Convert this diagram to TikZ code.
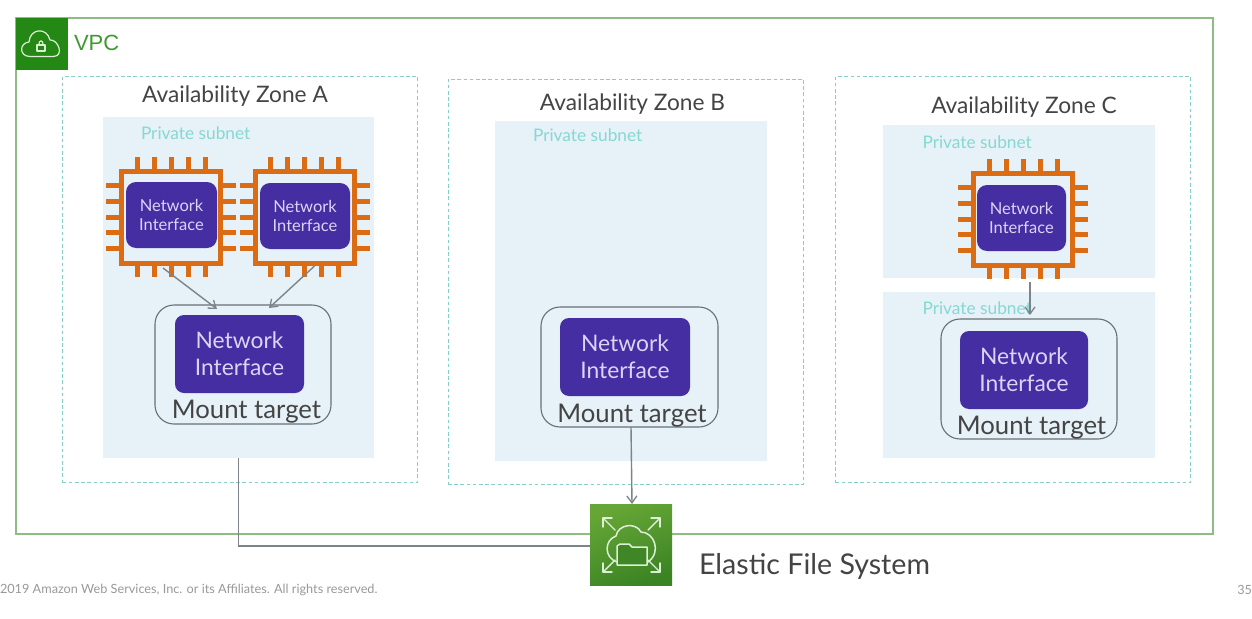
\documentclass[tikz,border=0pt]{standalone}
\usepackage{fontspec}
\setmainfont{Lato}
\newfontfamily\arialfont{Liberation Sans}
\usetikzlibrary{arrows.meta,calc}
\definecolor{vpcline}{HTML}{8FBC84}
\definecolor{vpcgreen}{HTML}{248814}
\definecolor{vpctext}{HTML}{3E9A30}
\definecolor{zoneline}{HTML}{86CFC8}
\definecolor{subnetbg}{HTML}{E6F1F8}
\definecolor{subnettext}{HTML}{86D8D2}
\definecolor{chiporange}{HTML}{DC6C14}
\definecolor{nipurple}{HTML}{452DA2}
\definecolor{nitext}{HTML}{DCD4F7}
\definecolor{arrowgray}{HTML}{7C8489}
\definecolor{inktext}{HTML}{444444}
\definecolor{efstop}{HTML}{66A636}
\definecolor{efsbot}{HTML}{3B8424}
\definecolor{iconline}{HTML}{DDF0D5}
\tikzset{
  x=1pt,y=-1pt,
  flatbox/.style={inner sep=0pt,outer sep=0pt,align=center},
  vpcbox/.style={flatbox,draw=vpcline,line width=1.6pt},
  vpcbadge/.style={flatbox,fill=vpcgreen},
  zonebox/.style={flatbox,draw=zoneline,line width=1pt,dash pattern=on 3.6pt off 2.6pt},
  subnetbox/.style={flatbox,fill=subnetbg},
  chipbody/.style={flatbox,draw=chiporange,line width=5pt},
  chippin/.style={draw=chiporange,line width=5pt},
  nismall/.style={flatbox,fill=nipurple,rounded corners=10pt,text=nitext,font=\fontsize{16.5}{18.5}\selectfont},
  nibig/.style={flatbox,fill=nipurple,rounded corners=9pt,text=nitext,font=\fontsize{22.8}{27}\selectfont},
  mountbox/.style={flatbox,draw=arrowgray!85!black,line width=1.1pt,rounded corners=19pt},
  zonelabel/.style={flatbox,text=inktext,font=\fontsize{22.7}{24}\selectfont},
  mountlabel/.style={flatbox,text=inktext,font=\fontsize{25.7}{27}\selectfont},
  subnetlabel/.style={flatbox,anchor=west,text=subnettext,font=\fontsize{17.3}{18}\selectfont},
  link/.style={draw=arrowgray,line width=1.4pt},
  arrowlink/.style={link,-{Straight Barb[length=7pt,width=10pt,line width=1.3pt]}},
  iconstroke/.style={draw=iconline,line width=1.5pt,line join=round,line cap=round},
  footer/.style={flatbox,text=black!40,font=\fontsize{12.7}{13}\selectfont},
}
% style, name, x0, y0, x1, y1, text
\newcommand{\placebox}[7]{%
  \pgfmathsetmacro{\bw}{#5-#3}\pgfmathsetmacro{\bh}{#6-#4}%
  \node[#1,minimum width=\bw pt,minimum height=\bh pt] (#2) at ({(#3+#5)/2},{(#4+#6)/2}) {#7};%
}
% name, centre x, centre y
\newcommand{\chipicon}[3]{%
  \node[chipbody,minimum width=99pt,minimum height=92pt] (#1) at (#2,#3) {};%
  \begin{scope}[shift={(#2,#3)}]
    \foreach \p in {-34,-17,0,17,34}{%
      \draw[chippin] (\p,-60) -- (\p,-48);
      \draw[chippin] (\p,48) -- (\p,60);}
    \foreach \p in {-32,-16,0,15,31}{%
      \draw[chippin] (-65,\p) -- (-52,\p);
      \draw[chippin] (52,\p) -- (65,\p);}
  \end{scope}%
}
\begin{document}
\begin{tikzpicture}
\useasboundingbox (0,0) rectangle (1252,618);
\fill[white] (0,0) rectangle (1252,618);

% VPC
\placebox{vpcbox}{vpc}{16}{18}{1213}{534}{}
\placebox{vpcbadge}{vpcicon}{16}{18}{68}{70}{}
\draw[iconstroke,line width=1.2pt] (30,56.5) .. controls (19,56.5) and (19,43) .. (29,42)
  .. controls (30,28) and (47,27) .. (50,40) .. controls (58,39) and (65,56.5) .. (53,56.5) -- cycle;
\draw[iconstroke,line width=1.2pt] (37,45) rectangle (45,51);
\draw[iconstroke,line width=1.2pt] (38.8,45) .. controls (38.8,39.5) and (43.2,39.5) .. (43.2,45);
\node[flatbox,anchor=west,text=vpctext,font=\arialfont\fontsize{22}{24}\selectfont] (vpclabel) at (74,43) {VPC};

% Zones
\placebox{zonebox}{zoneA}{62.5}{76.5}{417.5}{482.5}{}
\placebox{zonebox}{zoneB}{448}{79}{803.5}{484.5}{}
\placebox{zonebox}{zoneC}{835.5}{76.5}{1190.5}{482.5}{}
\node[zonelabel] (zoneAlabel) at (235,96.5) {Availability Zone A};
\node[zonelabel] (zoneBlabel) at (632.5,104.5) {Availability Zone B};
\node[zonelabel] (zoneClabel) at (1024,107.5) {Availability Zone C};

% Subnets
\placebox{subnetbox}{subA}{103}{117}{374}{458}{}
\placebox{subnetbox}{subB}{495}{121}{767}{461}{}
\placebox{subnetbox}{subCa}{883}{125}{1155}{278}{}
\placebox{subnetbox}{subCb}{883}{292}{1155}{458}{}
\node[subnetlabel] (subAlabel) at (141,133) {Private subnet};
\node[subnetlabel] (subBlabel) at (533,135) {Private subnet};
\node[subnetlabel] (subCalabel) at (922.5,142) {Private subnet};
\node[subnetlabel] (subCblabel) at (922.5,308.5) {Private subnet};

% Instances
\chipicon{chipAa}{171}{217}
\chipicon{chipAb}{304.5}{217}
\chipicon{chipC}{1023}{219}
\placebox{nismall}{niAa}{126}{182}{217}{248}{Network\\Interface}
\placebox{nismall}{niAb}{260}{183}{350}{249}{Network\\Interface}
\placebox{nismall}{niC}{977}{185}{1066}{251}{Network\\Interface}

% Mount targets
\placebox{mountbox}{mtA}{155}{305}{331}{424}{}
\placebox{mountbox}{mtB}{541}{307}{718}{427}{}
\placebox{mountbox}{mtC}{941}{319}{1117}{439}{}
\placebox{nibig}{niA}{175}{315}{304}{393}{Network\\Interface}
\placebox{nibig}{niB}{560}{318}{690}{396}{Network\\Interface}
\placebox{nibig}{niCb}{960}{331}{1088}{409}{Network\\Interface}
\node[mountlabel] (mtAlabel) at (246.5,412) {Mount target};
\node[mountlabel] (mtBlabel) at (632,415.5) {Mount target};
\node[mountlabel] (mtClabel) at (1031.5,427.5) {Mount target};

% EFS icon
\placebox{flatbox}{efs}{590}{504}{672}{585}{}
\shade[bottom color=efsbot,top color=efstop,shading angle=20] (590,504) rectangle (672,585);
\draw[iconstroke] (617,562) .. controls (604,558) and (604,540) .. (616,536)
  .. controls (618,524) and (636,522) .. (641,532) .. controls (654,532) and (662,552) .. (648,562);
\draw[iconstroke,fill=efsbot!90!efstop] (617,565) -- (617,546) -- (620,544) -- (629,544) -- (632,547) -- (647,547) -- (647,565) -- cycle;
\foreach \tx/\ty/\ex/\ey/\dx/\dy in {603/518/615/530/1/1,660/518/648/530/-1/1,603/572/615/560/1/-1,660/572/648/560/-1/-1}{%
  \draw[iconstroke,line width=1.4pt] (\tx,\ty) -- (\ex,\ey);
  \draw[iconstroke,line width=1.4pt] (\tx+\dx*9,\ty) -- (\tx,\ty) -- (\tx,\ty+\dy*9);
}
\node[flatbox,anchor=west,text=inktext,font=\fontsize{28.6}{30}\selectfont] (efslabel) at (699,566) {Elastic File System};

% Connectors
\draw[arrowlink] ([xshift=-8pt,yshift=-5pt]chipAa.south) -- ([xshift=-26pt,yshift=-4pt]mtA.north);
\draw[arrowlink] ([xshift=10pt,yshift=-3pt]chipAb.south) -- ([xshift=26pt,yshift=-3pt]mtA.north);
\draw[arrowlink] ([xshift=7pt,yshift=-17pt]chipC.south) -- ([xshift=1pt,yshift=4pt]mtC.north);
\draw[arrowlink] ([xshift=1.5pt]mtB.south) -- ([xshift=1pt]efs.north);
\draw[link] (subA.south) |- ([yshift=-1.5pt]efs.west);

% Footer
\node[footer,anchor=west] (copyright) at (0,590) {2019 Amazon Web Services, Inc. or its Affiliates. All rights reserved.};
\node[footer,anchor=east] (pagenum) at (1252,590) {35};
\end{tikzpicture}
\end{document}
